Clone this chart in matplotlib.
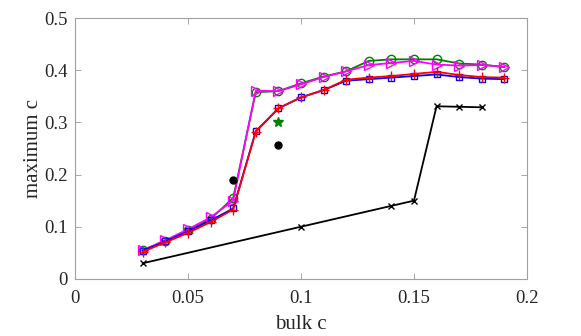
import matplotlib
matplotlib.use("Agg")
import matplotlib.pyplot as plt

x_full = [0.03, 0.04, 0.05, 0.06, 0.07, 0.08, 0.09, 0.10, 0.11, 0.12, 0.13, 0.14, 0.15, 0.16, 0.17, 0.18, 0.19]
green = [0.055, 0.073, 0.093, 0.115, 0.155, 0.358, 0.360, 0.375, 0.388, 0.398, 0.418, 0.421, 0.421, 0.421, 0.413, 0.411, 0.406]
magenta = [0.055, 0.074, 0.095, 0.118, 0.150, 0.361, 0.360, 0.373, 0.387, 0.398, 0.410, 0.414, 0.418, 0.411, 0.409, 0.410, 0.407]
blue = [0.054, 0.072, 0.091, 0.112, 0.135, 0.283, 0.327, 0.348, 0.362, 0.380, 0.383, 0.386, 0.389, 0.392, 0.387, 0.384, 0.383]
red = [0.052, 0.070, 0.088, 0.109, 0.133, 0.282, 0.327, 0.348, 0.362, 0.382, 0.386, 0.389, 0.393, 0.397, 0.391, 0.387, 0.386]
x_black = [0.03, 0.10, 0.14, 0.15, 0.16, 0.17, 0.18]
black = [0.030, 0.100, 0.140, 0.150, 0.331, 0.330, 0.329]
dots_x = [0.07, 0.09]
dots_y = [0.190, 0.257]
star_x = [0.09]
star_y = [0.300]

plt.rcParams['font.family'] = ['Liberation Serif', 'DejaVu Serif']
fig = plt.figure(figsize=(5.81, 3.36), dpi=100)
ax = fig.add_axes([0.129, 0.170, 0.778, 0.776])

ax.plot(x_full, green, color='#008000', marker='o', mfc='none', ms=6, lw=1.3)
ax.plot(x_full, magenta, color='#ff00ff', marker='>', mfc='none', ms=7, lw=1.3)
ax.plot(x_full, blue, color='#0000ff', marker='s', mfc='none', ms=5, lw=1.3)
ax.plot(x_full, red, color='#ff0000', marker='+', ms=7, lw=1.3)
ax.plot(x_black, black, color='black', marker='x', ms=4, lw=1.3)
ax.plot(dots_x, dots_y, 'o', color='black', ms=5)
ax.plot(star_x, star_y, '*', color='#008000', ms=7)

ax.set_xlim(0, 0.2)
ax.set_ylim(0, 0.5)
ax.set_xticks([0, 0.05, 0.1, 0.15, 0.2])
ax.set_xticklabels(['0', '0.05', '0.1', '0.15', '0.2'])
ax.set_yticks([0, 0.1, 0.2, 0.3, 0.4, 0.5])
ax.set_yticklabels(['0', '0.1', '0.2', '0.3', '0.4', '0.5'])
ax.tick_params(direction='in', top=True, right=True, labelsize=13.5, length=4, width=0.6,
               colors='#999999', labelcolor='#262626', pad=5)
ax.tick_params(axis='x', pad=8)
for s in ax.spines.values():
    s.set_color('#a0a0a0')
    s.set_linewidth(0.8)
ax.set_xlabel('bulk c', fontsize=15, color='#262626', labelpad=6)
ax.set_ylabel('maximum c', fontsize=15, color='#262626', labelpad=1)

fig.savefig('out.png', dpi=100)
